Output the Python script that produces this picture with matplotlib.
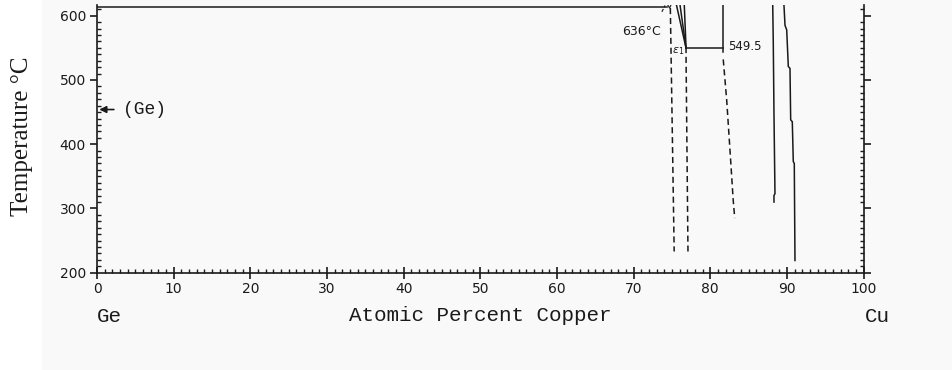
import matplotlib.pyplot as plt
from matplotlib.patches import Rectangle
from matplotlib.ticker import MultipleLocator

# Cu-Ge phase diagram, Ge-rich side up to ~617 C
# composition in at.% Cu, temperature in deg C

# horizontal invariant line near the top
top_line_c = [0, 74.4]
top_line_t = [614, 614]

# liquidus tip at the end of the top line
liq_tip_c = [74.2, 74.7, 75.1]
liq_tip_t = [622, 612, 622]

# leader for the 636 label
leader_c = [73.7, 74.1]
leader_t = [606, 616]

# solid boundaries converging on the epsilon1 point
v_a_c = [75.5, 76.85]
v_a_t = [622, 549.5]
v_b_c = [76.0, 76.85]
v_b_t = [622, 549.5]
v_c_c = [76.6, 76.85, 76.85]
v_c_t = [622, 549.5, 543]

# 549.5 invariant and the vertical boundary above it
inv_c = [76.85, 81.7]
inv_t = [549.5, 549.5]
vert_c = [81.7, 81.7]
vert_t = [622, 543]

# dashed (uncertain) boundaries
dash1_c = [74.8, 75.3]
dash1_t = [612, 233]
dash2_c = [76.85, 77.1]
dash2_t = [536, 233]
dash3_c = [81.7, 82.15, 82.58, 83.0, 83.2]
dash3_t = [532, 469, 391, 313, 285]

# solid boundaries on the Cu-rich side
sol4_c = [88.15, 88.23, 88.32, 88.45, 88.32, 88.32]
sol4_t = [622, 557, 448, 323, 320, 310]
sol5_c = [89.6, 89.76, 89.98, 90.19, 90.41, 90.5, 90.71, 90.84, 90.97, 91.06]
sol5_t = [622, 585, 578, 521, 518, 438, 435, 373, 370, 219]

ge_melt_t = 454

fig = plt.figure(figsize=(9.52, 3.70), dpi=100)
fig.patch.set_facecolor('white')
fig.patches.append(Rectangle((42 / 952, 0), 1, 1, transform=fig.transFigure,
                             facecolor='#f9f9f9', edgecolor='none', zorder=-10))

ax = fig.add_axes([97 / 952, 97.3 / 370, 766.5 / 952, 267.7 / 370])
ax.set_facecolor('none')
ax.set_xlim(0, 100)
ax.set_ylim(200, 616.7)

ink = '#1a1a1a'
lw = 1.1
solid = dict(color=ink, lw=lw, solid_joinstyle='miter')
dashed = dict(color=ink, lw=lw, ls=(0, (4, 2.5)))

ax.plot(top_line_c, top_line_t, **solid)
ax.plot(liq_tip_c, liq_tip_t, color=ink, lw=0.8)
ax.plot(leader_c, leader_t, color=ink, lw=0.8, ls=(0, (3, 1.5)))
for xs, ys in [(v_a_c, v_a_t), (v_b_c, v_b_t), (v_c_c, v_c_t),
               (inv_c, inv_t), (vert_c, vert_t), (sol4_c, sol4_t), (sol5_c, sol5_t)]:
    ax.plot(xs, ys, **solid)
for xs, ys in [(dash1_c, dash1_t), (dash2_c, dash2_t), (dash3_c, dash3_t)]:
    ax.plot(xs, ys, **dashed)

# (Ge) marker on the left axis
ax.annotate('', xy=(0.3, ge_melt_t), xytext=(2.2, ge_melt_t),
            arrowprops=dict(arrowstyle='-|>', color=ink, lw=1.2,
                            mutation_scale=10, shrinkA=0, shrinkB=0))
ax.text(3.4, ge_melt_t, '(Ge)', fontsize=13, family='Liberation Mono',
        va='center', ha='left', color=ink)

ax.text(71.1, 575, '636\u00b0C', fontsize=9, family='DejaVu Sans',
        ha='center', va='center', color=ink)
ax.text(82.3, 552, '549.5', fontsize=8.5, family='DejaVu Sans',
        ha='left', va='center', color=ink)
ax.text(75.8, 545, r'$\varepsilon_1$', fontsize=8, ha='center', va='center', color=ink)

# frame: no top spine, ticks on both sides
ax.spines['top'].set_visible(False)
for s in ['left', 'right', 'bottom']:
    ax.spines[s].set_linewidth(1.2)
    ax.spines[s].set_color(ink)

ax.xaxis.set_major_locator(MultipleLocator(10))
ax.xaxis.set_minor_locator(MultipleLocator(1))
ax.yaxis.set_major_locator(MultipleLocator(100))
ax.yaxis.set_minor_locator(MultipleLocator(10))

ax.tick_params(axis='x', which='major', direction='inout', length=8, width=1.2,
               labelsize=10, pad=3, colors=ink)
ax.tick_params(axis='y', which='major', direction='out', length=5, width=1.2,
               labelsize=10, pad=3, right=True, labelright=False, colors=ink)
ax.tick_params(which='minor', direction='in', length=3, width=1, right=True, colors=ink)

fig.text(480 / 952, 49 / 370, 'Atomic Percent Copper', fontsize=15,
         family='Liberation Mono', ha='center', va='baseline', color=ink)
fig.text(97 / 952, 48 / 370, 'Ge', fontsize=15, family='Liberation Mono',
         ha='left', va='baseline', color=ink)
fig.text(865 / 952, 48 / 370, 'Cu', fontsize=15, family='Liberation Mono',
         ha='left', va='baseline', color=ink)
fig.text(22 / 952, 1 - 136 / 370, 'Temperature \u00b0C', fontsize=18,
         family='Liberation Serif', rotation=90, ha='center', va='center', color=ink)

fig.savefig('out.png', dpi=100)
